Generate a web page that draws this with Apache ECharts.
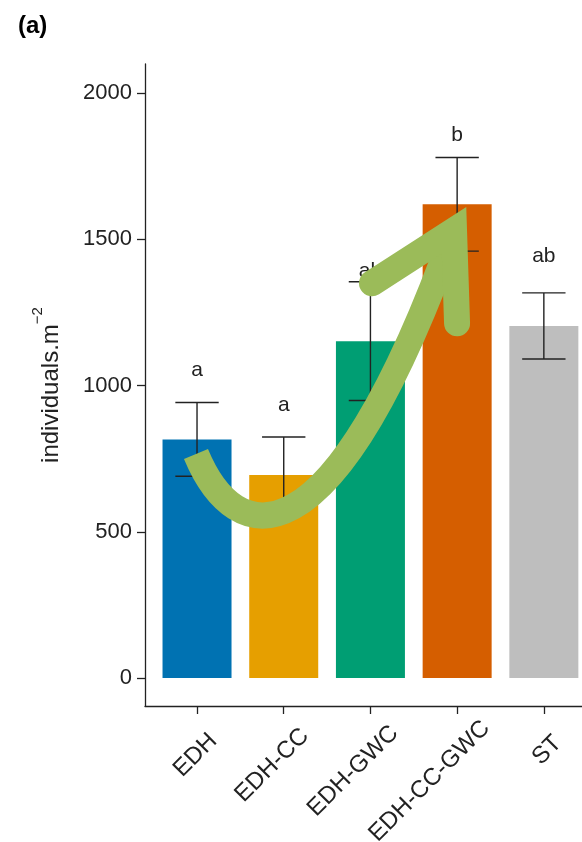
<!DOCTYPE html>
<html>
<head>
<meta charset="utf-8">
<script src="https://cdn.jsdelivr.net/npm/echarts@6/dist/echarts.min.js"></script>
<style>
html, body { margin: 0; padding: 0; background: #fff; }
#main { width: 582px; height: 842px; }
</style>
</head>
<body>
<div id="main"></div>
<script>
var categories = ['EDH', 'EDH-CC', 'EDH-GWC', 'EDH-CC-GWC', 'ST'];
var means = [816, 694, 1152, 1620, 1204];
var se = [126, 130, 203, 160, 113];
var letters = ['a', 'a', 'ab', 'b', 'ab'];
var letterY = [1051, 932, 1392, 1858, 1444];
var yTicks = [0, 500, 1000, 1500, 2000];
var barColors = ['#0072B2', '#E69F00', '#009E73', '#D55E00', '#BEBEBE'];

var font = '"Liberation Sans", Arial, sans-serif';
var ink = '#222';
var xPos = categories.map(function (c, i) { return i + 1; });

// rotated tick labels: shift each one along its own direction like the original layout
var ctx = document.createElement('canvas').getContext('2d');
ctx.font = '24px ' + font;
var labelRich = {};
categories.forEach(function (c, i) {
    var w = ctx.measureText(c).width;
    labelRich['c' + i] = { padding: [0, 26 + 0.676 * w, 0, 0] };
});

var chart = echarts.init(document.getElementById('main'));

var option = {
    animation: false,
    title: {
        text: '(a)', left: 13, top: 9,
        textStyle: { fontFamily: font, fontSize: 24, fontWeight: 'bold', color: '#000' }
    },
    grid: { left: 145, right: 0, top: 64, bottom: 136, outerBoundsMode: 'none', containLabel: false },
    xAxis: {
        type: 'value', min: 0.4, max: 5.44,
        axisLine: { onZero: false, lineStyle: { color: ink, width: 1.3 } },
        axisTick: { customValues: xPos, length: 8, lineStyle: { color: ink, width: 1.3 } },
        axisLabel: {
            customValues: xPos,
            formatter: function (v) {
                var i = Math.round(v) - 1;
                return '{c' + i + '|' + categories[i] + '}';
            },
            rotate: 45, margin: 8, align: 'center', verticalAlign: 'top', lineHeight: 56,
            hideOverlap: false, showMinLabel: true, showMaxLabel: true,
            fontFamily: font, fontSize: 24, color: ink,
            rich: labelRich
        },
        splitLine: { show: false }
    },
    yAxis: {
        type: 'value', min: -96, max: 2100,
        axisLine: { show: true, onZero: false, lineStyle: { color: ink, width: 1.3 } },
        axisTick: { show: true, customValues: yTicks, length: 8, lineStyle: { color: ink, width: 1.3 } },
        axisLabel: {
            customValues: yTicks, margin: 13, fontFamily: font, fontSize: 22, color: ink,
            formatter: function (v) { return String(v); }
        },
        splitLine: { show: false },
        name: '{n|individuals.m}{s|\u22122}',
        nameLocation: 'middle',
        nameGap: 73,
        nameTextStyle: {
            fontFamily: font, color: ink,
            rich: {
                n: { fontFamily: font, fontSize: 24, lineHeight: 42, color: ink },
                s: { fontFamily: font, fontSize: 15, lineHeight: 15, verticalAlign: 'top', color: ink }
            }
        }
    },
    series: [{
        type: 'bar',
        barWidth: 69,
        data: means.map(function (m, i) {
            return { value: [i + 1, m], itemStyle: { color: barColors[i] } };
        })
    }, {
        type: 'custom',
        z: 5,
        data: means.map(function (m, i) { return [i + 1, m, se[i]]; }),
        encode: { x: 0, y: 1 },
        renderItem: function (params, api) {
            var x = api.value(0), m = api.value(1), s = api.value(2);
            var top = api.coord([x, m + s]);
            var bot = api.coord([x, m - s]);
            var half = api.size([0.25, 0])[0];
            var st = { stroke: ink, lineWidth: 1.4, fill: null };
            return {
                type: 'group',
                children: [
                    { type: 'line', shape: { x1: top[0], y1: top[1], x2: bot[0], y2: bot[1] }, style: st },
                    { type: 'line', shape: { x1: top[0] - half, y1: top[1], x2: top[0] + half, y2: top[1] }, style: st },
                    { type: 'line', shape: { x1: bot[0] - half, y1: bot[1], x2: bot[0] + half, y2: bot[1] }, style: st }
                ]
            };
        }
    }, {
        type: 'custom',
        z: 6,
        data: letterY.map(function (v, i) { return [i + 1, v]; }),
        encode: { x: 0, y: 1 },
        renderItem: function (params, api) {
            var p = api.coord([api.value(0), api.value(1)]);
            return {
                type: 'text', x: p[0], y: p[1],
                style: {
                    text: letters[params.dataIndex], fill: ink,
                    font: '21px ' + font, textAlign: 'center', textVerticalAlign: 'middle'
                }
            };
        }
    }]
};
chart.setOption(option);

// green trend arrow drawn over the bars, anchored in axis units
var arrowCurve = [[0.988, 766], [1.438, 444], [2.534, 352], [3.964, 1531]];
var arrowHead = [[3.018, 1350], [3.964, 1531], [3.999, 1213]];
function px(p) { return chart.convertToPixel({ gridIndex: 0 }, p); }
var c = arrowCurve.map(px);
chart.setOption({
    graphic: [{
        type: 'bezierCurve', z: 100,
        shape: { x1: c[0][0], y1: c[0][1], cpx1: c[1][0], cpy1: c[1][1], cpx2: c[2][0], cpy2: c[2][1], x2: c[3][0], y2: c[3][1] },
        style: { stroke: '#9BBB59', lineWidth: 26, fill: null, lineCap: 'butt' }
    }, {
        type: 'polyline', z: 100,
        shape: { points: arrowHead.map(px) },
        style: { stroke: '#9BBB59', lineWidth: 26, fill: null, lineCap: 'round', lineJoin: 'miter', miterLimit: 10 }
    }]
});
</script>
</body>
</html>
